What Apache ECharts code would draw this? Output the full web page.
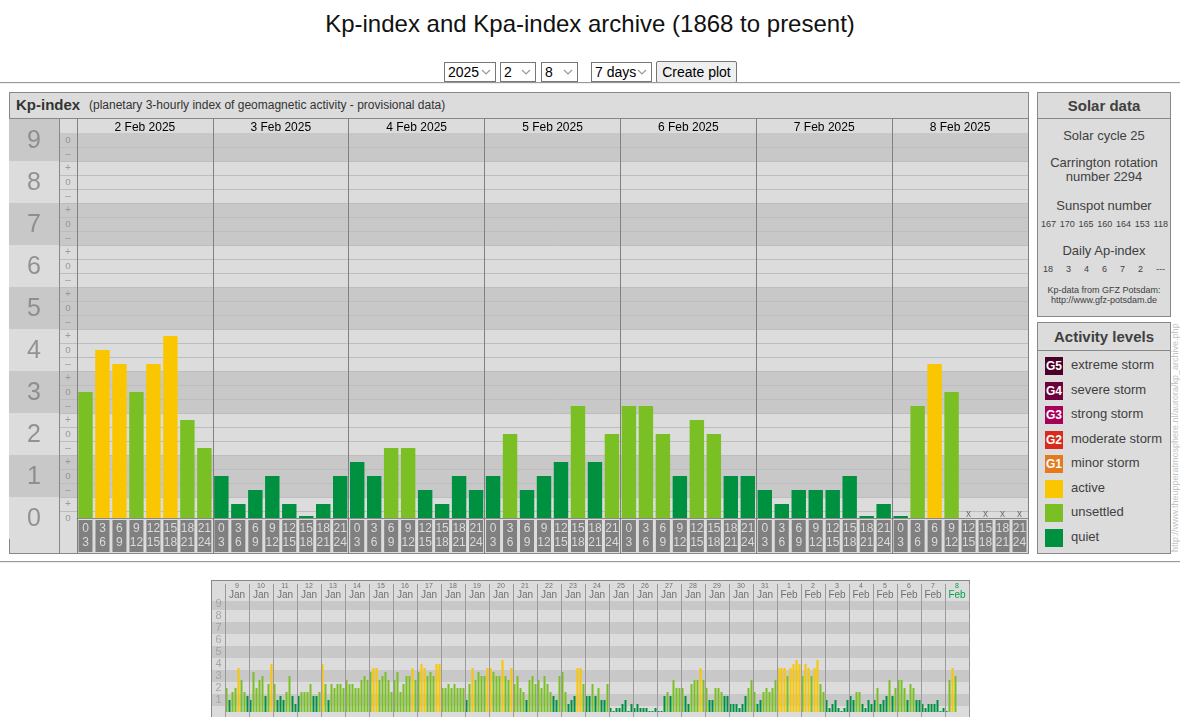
<!DOCTYPE html>
<html><head><meta charset="utf-8">
<script src="https://cdn.jsdelivr.net/npm/echarts@6/dist/echarts.min.js"></script>
<style>
html,body{margin:0;padding:0;width:1180px;height:717px;overflow:hidden;background:#fff;font-family:"Liberation Sans",Arial,sans-serif;}
.abs{position:absolute;box-sizing:border-box;}
#title{left:0;top:10px;width:1180px;text-align:center;font-size:24px;color:#111;}
select,button{position:absolute;font-family:"Liberation Sans",Arial,sans-serif;font-size:14px;box-sizing:border-box;color:#000;}
select{height:20px;top:62px;border:1px solid #767676;background:#fff url("data:image/svg+xml;utf8,<svg xmlns='http://www.w3.org/2000/svg' width='10' height='6'><path d='M1 1 L5 5 L9 1' fill='none' stroke='%23999' stroke-width='1.2'/></svg>") no-repeat right 4px center;padding:0 0 0 3px;-webkit-appearance:none;appearance:none;border-radius:0;}
button{top:61px;height:22px;background:#efefef;border:1px solid #767676;padding:0 4px;border-radius:2px;}
.hr{left:0;width:1180px;height:2px;border-top:1px solid #9a9a9a;border-bottom:1px solid #eee;}
.panel{background:#dcdcdc;border:1px solid #888;}
.hline{height:1px;background:#888;}
.vline{width:1px;background:#888;z-index:3;}
.ptitle{font-weight:bold;font-size:15px;color:#333;text-align:center;}
.side{color:#404040;text-align:center;width:134px;left:1037px;}
.row{display:flex;justify-content:space-between;font-size:9px;color:#404040;}
.leg{left:1045px;width:18px;height:18px;color:#fff;font-weight:bold;font-size:12px;text-align:center;line-height:18px;}
.legt{left:1071px;font-size:13px;color:#404040;line-height:18px;}
#chart{position:absolute;left:0;top:0;width:1180px;height:717px;z-index:2;}
#wm{left:1170px;top:552px;transform-origin:0 0;transform:rotate(-90deg);font-size:9px;color:#c4c4c4;white-space:nowrap;}
</style></head><body>
<div id="title" class="abs">Kp-index and Kpa-index archive (1868 to present)</div>
<select style="left:444px;width:52px"><option>2025</option></select>
<select style="left:500px;width:36px"><option>2</option></select>
<select style="left:541px;width:37px"><option>8</option></select>
<select style="left:591px;width:61px"><option>7 days</option></select>
<button style="left:656px;width:81px">Create plot</button>
<div class="abs hr" style="top:82px"></div>
<div class="abs hr" style="top:561px"></div>

<div class="abs panel" style="left:9px;top:92px;width:1020px;height:462px"></div>
<div class="abs hline" style="left:9px;top:118px;width:1020px"></div>
<div class="abs" style="left:16px;top:96px;font-size:15px;font-weight:bold;color:#333">Kp-index</div>
<div class="abs" style="left:89px;top:98px;font-size:12px;color:#333">(planetary 3-hourly index of geomagnetic activity - provisional data)</div>
<div class="abs vline" style="left:59px;top:118px;height:435px"></div>

<div class="abs panel" style="left:1037px;top:92px;width:134px;height:225px"></div>
<div class="abs hline" style="left:1037px;top:118px;width:134px"></div>
<div class="abs ptitle side" style="top:97px">Solar data</div>
<div class="abs side" style="top:128px;font-size:13px">Solar cycle 25</div>
<div class="abs side" style="top:156px;font-size:13px;line-height:14px">Carrington rotation<br>number 2294</div>
<div class="abs side" style="top:198px;font-size:13px">Sunspot number</div>
<div id="ssn" class="abs row" style="left:1041px;width:127px;top:219px"></div>
<div class="abs side" style="top:243px;font-size:13px">Daily Ap-index</div>
<div id="ap" class="abs row" style="left:1043px;width:122px;top:264px"></div>
<div class="abs side" style="top:285px;font-size:9px;line-height:10px">Kp-data from GFZ Potsdam:<br>http://www.gfz-potsdam.de</div>

<div class="abs panel" style="left:1037px;top:322px;width:134px;height:232px"></div>
<div class="abs hline" style="left:1037px;top:350px;width:134px"></div>
<div class="abs ptitle side" style="top:328px">Activity levels</div>
<div id="legend"></div>
<div id="wm" class="abs">http://www.theupperatmosphere.nl/aurora/kp_archive.php</div>

<div class="abs panel" style="left:211px;top:580px;width:759px;height:200px"></div>

<div id="chart"></div>
<script>
// ---------------- data ----------------
const MAIN_DAYS = ['2 Feb 2025','3 Feb 2025','4 Feb 2025','5 Feb 2025','6 Feb 2025','7 Feb 2025','8 Feb 2025'];
const HOUR_START = ['0','3','6','9','12','15','18','21'];
const HOUR_END   = ['3','6','9','12','15','18','21','24'];
const KP_LEVELS = ['0','1','2','3','4','5','6','7','8','9'];
const KP_SIGNS = ['–','o','+'];
// Kp values 2-8 Feb 2025 (3-hourly)
const KP_MAIN = [
  '3o','4o','4-','3o','4-','4+','2+','2-',
  '1o','0+','1-','1o','0+','0o','0+','1o',
  '1+','1o','2-','2-','1-','0+','1o','1-',
  '1o','2o','1-','1o','1+','3-','1+','2o',
  '3-','3-','2o','1o','2+','2o','1o','1o',
  '1-','0+','1-','1-','1-','1o','0o','0+',
  '0o','3-','4-','3o',null,null,null,null
];
// Kp values 9 Jan - 1 Feb 2025 (overview strip)
const KP_EARLY = [
  '2o','1o','2-','2o','4-','3-','2-','1+',
  '1o','3+','2o','3-','3o','1+','2+','4o',
  '2+','1o','1+','1o','2-','3o','1+','1-',
  '1+','2-','2-','2-','2+','1+','1+','2-',
  '4o','2+','1o','2+','2o','2+','2+','2o',
  '3-','2+','2+','2o','2o','3-','3o','3-',
  '3+','4-','4-','3-','3o','3+','3-','2-',
  '3-','3+','2-','2+','3o','3o','4-','3-',
  '3+','4o','4-','3o','3+','3o','4o','4o',
  '2o','2o','2+','2o','2+','2o','2o','2o',
  '1o','2+','4-','3-','3+','3o','3o','4-',
  '4-','3+','3o','3o','4+','3o','3-','4-',
  '2+','3o','2o','2-','1o','3-','3o','2+',
  '3-','2o','3o','2+','2-','1+','1o','3o',
  '3+','2-','1-','1o','1+','4-','4-','2+',
  '1+','1+','2+','1+','2o','1o','1o','2+',
  '0+','0o','0+','0+','1-','1o','0o','1-',
  '0+','1-','0+','0+','0+','0o','0o','0+',
  '0o','0o','1+','2-','1+','3-','2o','2o',
  '2o','1+','1-','2+','3-','3-','4-','3-',
  '2o','1o','1o','2o','2o','2-','1+','1+',
  '1-','1-','1-','0+','1-','1+','2o','3-',
  '2-','1-','1o','2-','2o','2-','2o','3-',
  '4-','4-','4-','3o','4-','4o','4+','4o'
];
const MINI_DAY_NUM = ['9','10','11','12','13','14','15','16','17','18','19','20','21','22','23','24','25','26','27','28','29','30','31','1','2','3','4','5','6','7','8'];
const MINI_MONTH = ['Jan','Jan','Jan','Jan','Jan','Jan','Jan','Jan','Jan','Jan','Jan','Jan','Jan','Jan','Jan','Jan','Jan','Jan','Jan','Jan','Jan','Jan','Jan','Feb','Feb','Feb','Feb','Feb','Feb','Feb','Feb'];
const SUNSPOTS = ['167','170','165','160','164','153','118'];
const DAILY_AP = ['18','3','4','6','7','2','---'];
const LEVEL_NAMES = ['extreme storm','severe storm','strong storm','moderate storm','minor storm','active','unsettled','quiet'];
const LEVEL_BADGES = ['G5','G4','G3','G2','G1','','',''];
const LEVEL_COLORS = ['#4b0028','#6e003c','#a8005a','#d92b1c','#e6781e','#fac600','#7ac024','#009140'];
const LEVEL_FROM = ['9-','8-','7-','6-','5-','4-','2-','0o'];

// ---------------- html side panels ----------------
document.getElementById('ssn').innerHTML = SUNSPOTS.map(s=>'<span>'+s+'</span>').join('');
document.getElementById('ap').innerHTML = DAILY_AP.map(s=>'<span>'+s+'</span>').join('');
let lg='';
LEVEL_NAMES.forEach((n,i)=>{
  const top = 357 + i*24.5;
  lg += '<div class="abs leg" style="top:'+top+'px;background:'+LEVEL_COLORS[i]+'">'+LEVEL_BADGES[i]+'</div>';
  lg += '<div class="abs legt" style="top:'+(top-1)+'px">'+n+'</div>';
});
document.getElementById('legend').innerHTML = lg;

// ---------------- helpers ----------------
function kpValue(s){ if(s==null) return null; const n=+s[0], m=s[1]; return n + (m==='+'?1/3:(m==='-'?-1/3:0)); }
function kpColor(v){ for(let i=0;i<LEVEL_FROM.length;i++){ if(v>=kpValue(LEVEL_FROM[i])-1e-6) return LEVEL_COLORS[i]; } return LEVEL_COLORS[LEVEL_COLORS.length-1]; }
const DARK='#c8c8c8', LIGHT='#dcdcdc', GRIDLINE='#bdbdbd';
function barData(arr){ return arr.map(s=>{ const v=kpValue(s); return v==null?null:{value:v,itemStyle:{color:kpColor(v)}}; }); }
function bandSeries(xi, yi, lo, hi){
  const data=[];
  KP_LEVELS.forEach((l,n)=>{ const a=Math.max(n-0.5,lo), b=Math.min(n+0.5,hi); if(b>a) data.push([{yAxis:a,itemStyle:{color:n%2?DARK:LIGHT}},{yAxis:b}]); });
  return {type:'scatter', xAxisIndex:xi, yAxisIndex:yi, data:[], silent:true, z:1, markArea:{silent:true, data}};
}
function thirdLines(xi, yi, hi){
  const data=[];
  for(let k=0;(k+0.5)/3<hi-1e-6;k++) data.push({yAxis:(k+0.5)/3});
  return {type:'scatter', xAxisIndex:xi, yAxisIndex:yi, data:[], silent:true, z:2,
    markLine:{silent:true, symbol:'none', label:{show:false}, lineStyle:{color:GRIDLINE,width:1,type:'solid'}, data}};
}
const hiddenX = (gi)=>({gridIndex:gi, type:'value', min:0, max:1, show:false});
const hiddenY = (gi, min, max)=>({gridIndex:gi, type:'value', min, max, show:false});

// main geometry
const MAIN_TOP=133, MAIN_H=385, PXU=42;
const MAIN_MAX = MAIN_H/PXU;
const NUM_MIN = -(552-(MAIN_TOP+MAIN_H))/PXU, NUM_MAX = MAIN_MAX + (MAIN_TOP-119)/PXU;
const MINI_MAX = 9.25;

const SLOTS=[]; MAIN_DAYS.forEach(d=>HOUR_START.forEach((h,i)=>SLOTS.push(d+' '+h+'-'+HOUR_END[i])));
const KP_ALL = KP_EARLY.concat(KP_MAIN);
const MINI_SLOTS = KP_ALL.map((v,i)=>'s'+i);

const chart = echarts.init(document.getElementById('chart'), null, {renderer:'canvas'});
const font = '"Liberation Sans", Arial, sans-serif';
chart.setOption({
  animation:false,
  textStyle:{fontFamily:font},
  grid:[
    {left:9, top:119, width:50, height:433},                 //0 number column
    {left:59, top:MAIN_TOP, width:18, height:MAIN_H},        //1 sign column
    {left:77, top:MAIN_TOP, width:951, height:MAIN_H},       //2 main plot
    {left:77, top:118, width:951, height:435},               //3 day separators
    {left:225, top:601, width:744, height:111},              //4 mini plot
    {left:212, top:601, width:13, height:111},               //5 mini numbers
    {left:225, top:584, width:744, height:133}               //6 mini separators
  ],
  xAxis:[
    hiddenX(0),                                                           //0
    hiddenX(1),                                                           //1
    {gridIndex:2, type:'category', data:SLOTS, axisTick:{show:false},     //2
      axisLine:{show:true, lineStyle:{color:'#8a8a8a', width:1}},
      axisLabel:{interval:0, margin:2, color:'#dadada', fontSize:12, lineHeight:14, backgroundColor:'#808080',
        width:14, height:28, padding:[2,0,2,0], align:'center', verticalAlign:'top',
        formatter:(v,i)=>HOUR_START[i%8]+'\n'+HOUR_END[i%8]}},
    {gridIndex:2, type:'category', position:'top', data:MAIN_DAYS, axisTick:{show:false}, axisLine:{show:false}, //3
      axisLabel:{interval:0, margin:-1, color:'#000', fontSize:12}},
    {gridIndex:3, type:'value', min:0, max:MAIN_DAYS.length, interval:1, z:10, axisLine:{show:false}, axisTick:{show:false}, axisLabel:{show:false}, //4
      splitLine:{show:true, lineStyle:{color:'#808080', width:1}}},
    {gridIndex:4, type:'category', data:MINI_SLOTS, show:false},          //5
    {gridIndex:4, type:'category', position:'top', data:MINI_DAY_NUM, axisTick:{show:false}, axisLine:{show:false}, //6
      axisLabel:{interval:0, margin:0,
        formatter:(v,i)=> i===MINI_DAY_NUM.length-1 ? '{dg|'+v+'}\n{mg|'+MINI_MONTH[i]+'}' : '{d|'+v+'}\n{m|'+MINI_MONTH[i]+'}',
        rich:{d:{fontSize:7,lineHeight:7,color:'#707070'}, m:{fontSize:10,lineHeight:11,color:'#707070'},
              dg:{fontSize:7,lineHeight:7,color:'#00a24a'}, mg:{fontSize:10,lineHeight:11,color:'#00a24a'}}}},
    hiddenX(5),                                                           //7
    {gridIndex:6, type:'value', min:0, max:MINI_DAY_NUM.length, interval:1, z:10, axisLine:{show:false}, axisTick:{show:false}, axisLabel:{show:false}, //8
      splitLine:{show:true, lineStyle:{color:'#9a9a9a', width:1}}}
  ],
  yAxis:[
    hiddenY(0, NUM_MIN, NUM_MAX),
    hiddenY(1, 0, MAIN_MAX),
    hiddenY(2, 0, MAIN_MAX),
    hiddenY(3, 0, 1),
    hiddenY(4, 0, MINI_MAX),
    hiddenY(5, 0, MINI_MAX),
    hiddenY(6, 0, 1)
  ],
  series:[
    bandSeries(0,0,NUM_MIN,NUM_MAX),
    bandSeries(1,1,0,MAIN_MAX),
    bandSeries(2,2,0,MAIN_MAX),
    bandSeries(5,4,0,MINI_MAX),
    bandSeries(7,5,0,MINI_MAX),
    thirdLines(1,1,MAIN_MAX),
    thirdLines(2,2,MAIN_MAX),
    {type:'scatter', xAxisIndex:0, yAxisIndex:0, symbolSize:1, itemStyle:{color:'transparent'}, z:5, silent:true,
      data:KP_LEVELS.map((l,n)=>[0.5,n,l]),
      label:{show:true, position:'inside', offset:[0,1], formatter:p=>p.value[2], fontSize:25, color:'#808080'}},
    {type:'scatter', xAxisIndex:1, yAxisIndex:1, symbolSize:1, itemStyle:{color:'transparent'}, z:5, silent:true,
      data:(()=>{const d=[]; KP_LEVELS.forEach((l,n)=>KP_SIGNS.forEach((s,j)=>{const v=n+(j-1)/3; if(v>=0&&v<=9) d.push([0.5,v,s]);})); return d;})(),
      label:{show:true, position:'inside', formatter:p=>p.value[2], fontSize:10, color:'#8c8c8c'}},
    {type:'bar', xAxisIndex:2, yAxisIndex:2, data:barData(KP_MAIN), barWidth:'85%', barMinHeight:2, z:5, silent:true},
    {type:'scatter', xAxisIndex:2, yAxisIndex:2, symbolSize:1, itemStyle:{color:'transparent'}, z:6, silent:true,
      data:KP_MAIN.map((s,i)=>s==null?[i,0]:null).filter(d=>d),
      label:{show:true, position:'inside', offset:[0,-4], formatter:'x', fontSize:10, color:'#555'}},
    {type:'scatter', xAxisIndex:7, yAxisIndex:5, symbolSize:1, itemStyle:{color:'transparent'}, z:5, silent:true,
      data:KP_LEVELS.slice(1).map(l=>[0.5,+l,l]),
      label:{show:true, position:'inside', formatter:p=>p.value[2], fontSize:11, color:'#999'}},
    {type:'bar', xAxisIndex:5, yAxisIndex:4, data:barData(KP_ALL), barWidth:2, barMinHeight:1, z:5, silent:true}
  ]
});
</script>
</body></html>
